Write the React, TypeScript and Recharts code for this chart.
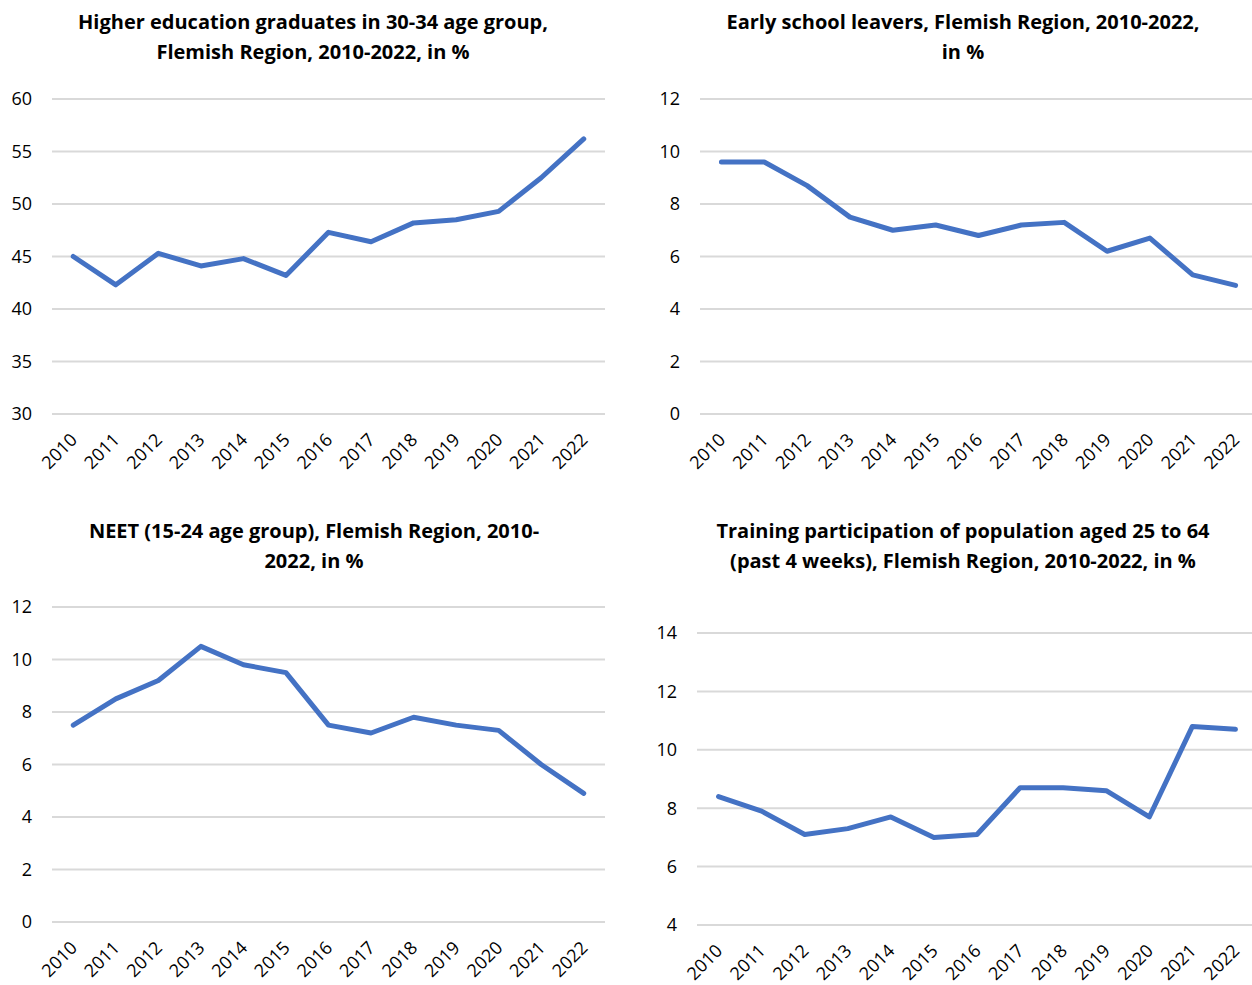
import React from "react";
import { LineChart, Line, XAxis, YAxis, CartesianGrid } from "recharts";

const years = ["2010", "2011", "2012", "2013", "2014", "2015", "2016", "2017", "2018", "2019", "2020", "2021", "2022"];

const higherEducation = [45.0, 42.3, 45.3, 44.1, 44.8, 43.2, 47.3, 46.4, 48.2, 48.5, 49.3, 52.5, 56.2];
const earlyLeavers = [9.6, 9.6, 8.7, 7.5, 7.0, 7.2, 6.8, 7.2, 7.3, 6.2, 6.7, 5.3, 4.9];
const neet = [7.5, 8.5, 9.2, 10.5, 9.8, 9.5, 7.5, 7.2, 7.8, 7.5, 7.3, 6.0, 4.9];
const training = [8.4, 7.9, 7.1, 7.3, 7.7, 7.0, 7.1, 8.7, 8.7, 8.6, 7.7, 10.8, 10.7];

const higherTicks = [30, 35, 40, 45, 50, 55, 60];
const zeroToTwelve = [0, 2, 4, 6, 8, 10, 12];
const trainingTicks = [4, 6, 8, 10, 12, 14];

const FONT = "'Open Sans', sans-serif";
const BLUE = "#4472c4";
const GRID = "#d9d9d9";

const toRows = (values: number[]) => years.map((year, i) => ({ year, value: values[i] }));

interface PanelProps {
  left: number;
  top: number;
  width: number;
  height: number;
  axisWidth: number;
  plotTop: number;
  axisHeight: number;
  right: number;
  title: string[];
  titleCenter: number;
  titleTop: number;
  values: number[];
  ticks: number[];
}

const Panel = ({
  left, top, width, height, axisWidth, plotTop, axisHeight, right,
  title, titleCenter, titleTop, values, ticks,
}: PanelProps) => {
  const data = toRows(values);
  // half a category band on each side, like Excel's "between tick marks"
  const half = (width - axisWidth - right) / years.length / 2;
  return (
    <>
      <div
        style={{
          position: "absolute",
          left: titleCenter - 300,
          width: 600,
          top: titleTop,
          textAlign: "center",
          fontFamily: FONT,
          fontWeight: 700,
          fontSize: 20,
          lineHeight: "30px",
          color: "#000",
        }}
      >
        {title.map((line) => (
          <div key={line}>{line}</div>
        ))}
      </div>
      <div style={{ position: "absolute", left, top }}>
        <LineChart width={width} height={height} data={data} margin={{ top: plotTop, right, left: 0, bottom: 0 }}>
          <CartesianGrid vertical={false} stroke={GRID} strokeWidth={2} />
          <XAxis
            dataKey="year"
            height={axisHeight}
            padding={{ left: half, right: half }}
            axisLine={false}
            tickLine={false}
            tickSize={0}
            tickMargin={18}
            interval={0}
            angle={-45}
            textAnchor="end"
            tick={{ fontSize: 18, fill: "#000", fontFamily: FONT, dx: -4 }}
          />
          <YAxis
            width={axisWidth}
            domain={[ticks[0], ticks[ticks.length - 1]]}
            ticks={ticks}
            axisLine={false}
            tickLine={false}
            tickSize={0}
            tickMargin={20}
            tick={{ fontSize: 18, fill: "#000", fontFamily: FONT }}
          />
          <Line
            type="linear"
            dataKey="value"
            stroke={BLUE}
            strokeWidth={5}
            strokeLinejoin="round"
            strokeLinecap="round"
            dot={false}
            isAnimationActive={false}
          />
        </LineChart>
      </div>
    </>
  );
};

export default function App() {
  return (
    <div
      style={{
        position: "absolute",
        left: 0,
        top: 0,
        width: 1252,
        height: 985,
        overflow: "hidden",
        background: "#fff",
      }}
    >
      <Panel
        left={0} top={0} width={620} height={490}
        axisWidth={52} plotTop={99} axisHeight={76} right={15}
        title={["Higher education graduates in 30-34 age group,", "Flemish Region, 2010-2022, in %"]}
        titleCenter={313} titleTop={7}
        values={higherEducation} ticks={higherTicks}
      />
      <Panel
        left={630} top={0} width={627} height={490}
        axisWidth={70} plotTop={99} axisHeight={76} right={0}
        title={["Early school leavers, Flemish Region, 2010-2022,", "in %"]}
        titleCenter={963} titleTop={7}
        values={earlyLeavers} ticks={zeroToTwelve}
      />
      <Panel
        left={0} top={500} width={620} height={485}
        axisWidth={52} plotTop={107} axisHeight={63} right={15}
        title={["NEET (15-24 age group), Flemish Region, 2010-", "2022, in %"]}
        titleCenter={314} titleTop={516}
        values={neet} ticks={zeroToTwelve}
      />
      <Panel
        left={630} top={500} width={627} height={485}
        axisWidth={67} plotTop={133} axisHeight={60} right={0}
        title={["Training participation of population aged 25 to 64", "(past 4 weeks), Flemish Region, 2010-2022, in %"]}
        titleCenter={963} titleTop={516}
        values={training} ticks={trainingTicks}
      />
    </div>
  );
}
